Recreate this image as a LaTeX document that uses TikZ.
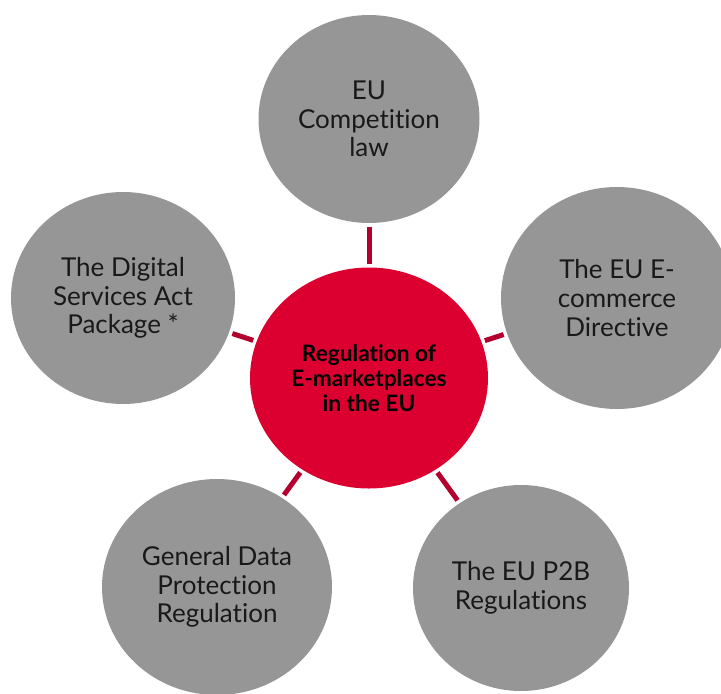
\documentclass[tikz,border=0pt]{standalone}
\usepackage{fontspec}
\setmainfont{Lato}[Ligatures={NoCommon}]
\usetikzlibrary{shapes.geometric}
\definecolor{bubblegrey}{HTML}{969696}
\definecolor{hubred}{HTML}{DC0030}
\definecolor{linkred}{HTML}{B4002D}

\begin{document}
\begin{tikzpicture}[x=0.75pt,y=-0.75pt,
  bubble/.style={ellipse,fill=bubblegrey,inner sep=0pt,align=center,text=black!90,font=\fontsize{19.5}{21.5}\selectfont},
  hubnode/.style={ellipse,fill=hubred,inner sep=0pt,align=center,font=\fontsize{17}{18.75}\selectfont\bfseries},
  link/.style={draw=linkred,line width=3.75pt,shorten >=2.5pt,shorten <=2.5pt}]
\useasboundingbox (0,0) rectangle (721,693);

\node[hubnode,minimum width=178.5pt,minimum height=165.75pt] (reg) at (369,378) {Regulation of\\E-marketplaces\\in the EU};

\node[bubble,minimum width=165.75pt,minimum height=156pt] (comp) at (369,119) {EU\\Competition\\law};
\node[bubble,minimum width=174pt,minimum height=166.5pt] (ecom) at (617,298) {The EU E-\\commerce\\Directive};
\node[bubble,minimum width=162pt,minimum height=154.5pt] (ptob) at (521,588) {The EU P2B\\Regulations};
\node[bubble,minimum width=172.5pt,minimum height=162pt] (gdpr) at (217,587) {General Data\\Protection\\Regulation};
\node[bubble,minimum width=168pt,minimum height=159pt] (dsa) at (123,298) {The Digital\\Services Act\\Package *};

\draw[link] (comp) -- (reg);
\draw[link] (reg) -- (ecom);
\draw[link] (reg) -- (ptob);
\draw[link] (reg) -- (gdpr);
\draw[link] (dsa) -- (reg);

\end{tikzpicture}
\end{document}
